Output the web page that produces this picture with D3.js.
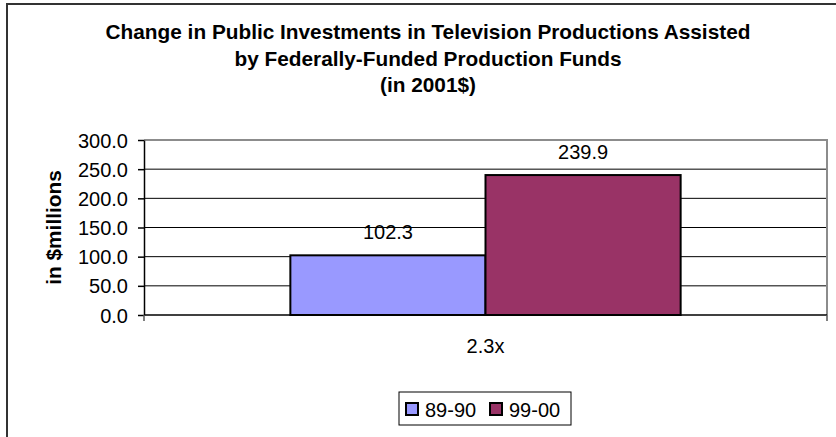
<!DOCTYPE html>
<html>
<head>
<meta charset="utf-8">
<script src="https://cdn.jsdelivr.net/npm/d3@7"></script>
<style>
  html, body { margin: 0; padding: 0; background: #fff; }
  svg { display: block; font-family: "Liberation Sans", Arial, sans-serif; }
</style>
</head>
<body>
<svg id="chart" width="836" height="437"></svg>
<script>
// Chart data
const titleLines = [
  "Change in Public Investments in Television Productions Assisted",
  "by Federally-Funded Production Funds",
  "(in 2001$)"
];
const categories = ["2.3x"];
const seriesNames = ["89-90", "99-00"];
const seriesValues = [[102.3], [239.9]];
const seriesColors = ["#9999FF", "#993366"];
const yTicks = [0, 50, 100, 150, 200, 250, 300];
const yLabel = "in $millions";

const svg = d3.select("#chart");
const W = 836, H = 437;
const plot = { left: 144, right: 827, top: 140, bottom: 315 };
const bodySize = 20;
const titleSize = 20.8;

svg.append("rect").attr("width", W).attr("height", H).attr("fill", "#fff");

// Outer chart-area frame (runs past the right and bottom edges)
svg.append("rect")
  .attr("x", 7).attr("y", 4)
  .attr("width", W + 20).attr("height", H + 20)
  .attr("fill", "none").attr("stroke", "#333").attr("stroke-width", 2);

// Title
svg.append("g").selectAll("text")
  .data(titleLines).join("text")
  .attr("x", 428)
  .attr("y", (d, i) => 39 + i * 26.5)
  .attr("text-anchor", "middle")
  .attr("font-weight", "bold")
  .attr("font-size", titleSize)
  .attr("fill", "#000")
  .text(d => d);

// Scales
const y = d3.scaleLinear().domain([0, 300]).range([plot.bottom, plot.top]);
const x0 = d3.scaleBand().domain(categories).range([plot.left, plot.right]);
const gapWidth = 1.5; // gap between groups, in bar widths
const groupWidth = x0.bandwidth() * seriesNames.length / (seriesNames.length + gapWidth);
const x1 = d3.scaleBand().domain(seriesNames).range([0, groupWidth]);

// Gridlines
svg.append("g").selectAll("line")
  .data(yTicks.filter(t => t > 0 && t < 300)).join("line")
  .attr("x1", plot.left).attr("x2", plot.right)
  .attr("y1", d => y(d)).attr("y2", d => y(d))
  .attr("stroke", "#000").attr("stroke-width", 1);

// Plot-area border (top and right)
svg.append("path")
  .attr("d", `M${plot.left},${plot.top}H${plot.right}V${plot.bottom}`)
  .attr("fill", "none").attr("stroke", "#8c8c8c").attr("stroke-width", 2);

// Bars
const groups = svg.append("g").selectAll("g")
  .data(categories).join("g")
  .attr("transform", d => `translate(${x0(d) + (x0.bandwidth() - groupWidth) / 2},0)`);

const barData = (c, ci) => seriesNames.map((s, si) => ({ s, si, v: seriesValues[si][ci] }));

groups.each(function (c, ci) {
  const g = d3.select(this);
  const data = barData(c, ci);
  g.selectAll("rect").data(data).join("rect")
    .attr("x", d => x1(d.s))
    .attr("y", d => y(d.v))
    .attr("width", x1.bandwidth())
    .attr("height", d => y(0) - y(d.v))
    .attr("fill", d => seriesColors[d.si])
    .attr("stroke", "#000").attr("stroke-width", 2);
  g.selectAll("text.val").data(data).join("text")
    .attr("class", "val")
    .attr("x", d => x1(d.s) + x1.bandwidth() / 2)
    .attr("y", d => y(d.v) - 16.5)
    .attr("text-anchor", "middle")
    .attr("font-size", bodySize)
    .attr("fill", "#000")
    .text(d => d.v.toFixed(1));
});

// Y axis
const yAxis = d3.axisLeft(y).tickValues(yTicks).tickFormat(d3.format(".1f")).tickSizeInner(6).tickSizeOuter(0).tickPadding(10);
const yg = svg.append("g").attr("transform", `translate(${plot.left},0)`).call(yAxis);
yg.select(".domain").attr("stroke", "#000").attr("stroke-width", 1.5);
yg.selectAll(".tick line").attr("stroke", "#000").attr("stroke-width", 1.5);
yg.selectAll(".tick text")
  .attr("font-size", bodySize).attr("fill", "#000")
  .attr("font-family", "Liberation Sans, Arial, sans-serif")
  .attr("dy", "0.35em");

// X axis
const xg = svg.append("g").attr("transform", `translate(0,${plot.bottom})`);
xg.append("line")
  .attr("x1", plot.left).attr("x2", plot.right)
  .attr("stroke", "#000").attr("stroke-width", 1.5);
const bounds = [plot.left, ...categories.map(c => x0(c) + x0.bandwidth())];
xg.selectAll("line.tick").data(bounds).join("line")
  .attr("class", "tick")
  .attr("x1", d => d).attr("x2", d => d)
  .attr("y1", 0).attr("y2", 6)
  .attr("stroke", "#555").attr("stroke-width", 1.5);
xg.selectAll("text").data(categories).join("text")
  .attr("x", d => x0(d) + x0.bandwidth() / 2)
  .attr("y", 38)
  .attr("text-anchor", "middle")
  .attr("font-size", bodySize).attr("fill", "#000")
  .text(d => d);

// Y axis title
svg.append("text")
  .attr("transform", `translate(61,${(plot.top + plot.bottom) / 2}) rotate(-90)`)
  .attr("text-anchor", "middle")
  .attr("font-weight", "bold").attr("font-size", titleSize).attr("fill", "#000")
  .text(yLabel);

// Legend
const legend = svg.append("g").attr("transform", "translate(399,392)");
legend.append("rect")
  .attr("width", 172).attr("height", 33)
  .attr("fill", "#fff").attr("stroke", "#000").attr("stroke-width", 1);
const itemX = [7, 91];
const items = legend.selectAll("g.item").data(seriesNames).join("g")
  .attr("class", "item")
  .attr("transform", (d, i) => `translate(${itemX[i]},0)`);
items.append("rect")
  .attr("x", 0).attr("y", 11).attr("width", 12).attr("height", 12)
  .attr("fill", (d, i) => seriesColors[i])
  .attr("stroke", "#000").attr("stroke-width", 2);
items.append("text")
  .attr("x", 19).attr("y", 24.5)
  .attr("font-size", bodySize).attr("fill", "#000")
  .text(d => d);
</script>
</body>
</html>
